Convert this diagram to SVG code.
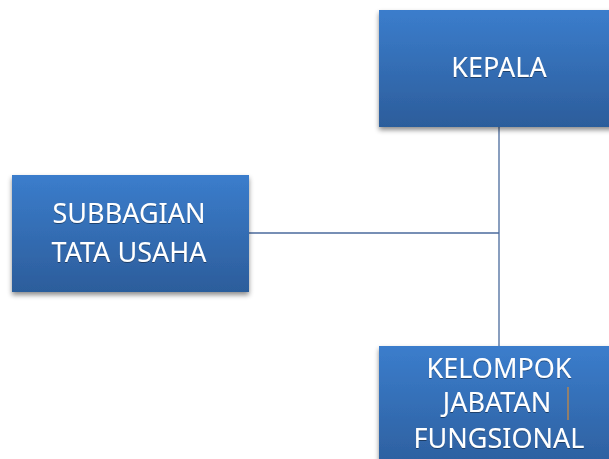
<svg xmlns="http://www.w3.org/2000/svg" width="609" height="459" viewBox="0 0 609 459">
<defs>
<linearGradient id="g" x1="0" y1="0" x2="0" y2="1">
<stop offset="0" stop-color="#3b7dcc"/>
<stop offset="1" stop-color="#2c5d9b"/>
</linearGradient>
<filter id="sh" x="-10%" y="-10%" width="120%" height="130%">
<feDropShadow dx="0" dy="3" stdDeviation="2.5" flood-color="#000" flood-opacity="0.45"/>
</filter>
<filter id="ts" x="-10%" y="-20%" width="120%" height="140%">
<feDropShadow dx="0" dy="1" stdDeviation="0.6" flood-color="#000" flood-opacity="0.4"/>
</filter>
</defs>
<style>
.box{fill:url(#g);filter:url(#sh);}
.t{font-family:"Noto Sans","Open Sans","Liberation Sans",sans-serif;font-size:27px;fill:#ffffff;text-anchor:middle;filter:url(#ts);}
.c{stroke:#4a6a9c;stroke-width:1.3;fill:none;}
</style>
<rect width="609" height="459" fill="#ffffff"/>
<g id="connectors">
<path class="c" d="M499 127 V346"/>
<path class="c" d="M249 233 H499"/>
</g>
<g id="kepala">
<rect class="box" x="379" y="10" width="240" height="117"/>
<text class="t" x="499" y="77">KEPALA</text>
</g>
<g id="subbagian">
<rect class="box" x="12" y="175" width="237" height="117"/>
<text class="t" x="129" y="223">SUBBAGIAN</text>
<text class="t" x="129" y="262">TATA USAHA</text>
</g>
<g id="kelompok">
<rect class="box" x="379" y="346" width="240" height="130"/>
<text class="t" x="499" y="378">KELOMPOK</text>
<text class="t" x="497" y="412">JABATAN</text>
<text class="t" x="499" y="448">FUNGSIONAL</text>
<line x1="568" y1="387" x2="568" y2="420" stroke="#d08a3a" stroke-width="1.2"/>
</g>
</svg>
